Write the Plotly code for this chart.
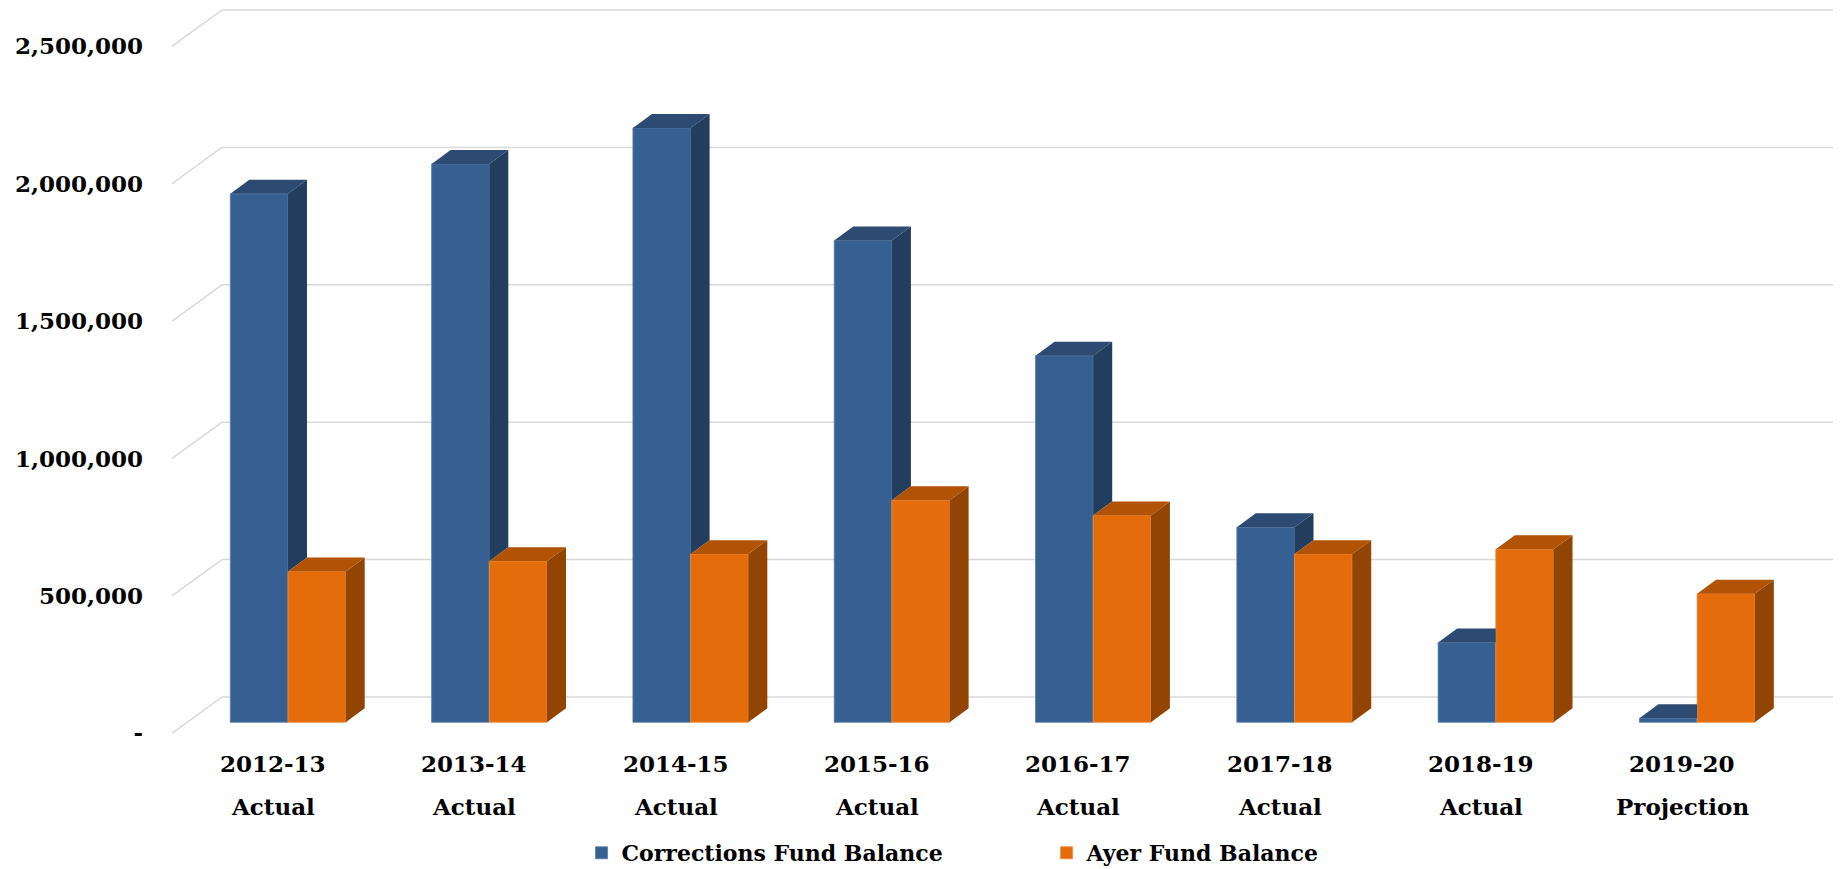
import plotly.graph_objects as go

# ---------------- data ----------------
years = ["2012-13", "2013-14", "2014-15", "2015-16", "2016-17", "2017-18", "2018-19", "2019-20"]
status = ["Actual", "Actual", "Actual", "Actual", "Actual", "Actual", "Actual", "Projection"]
corrections = [1923000, 2032000, 2163000, 1753000, 1334000, 710000, 290000, 15000]
ayer = [549000, 586000, 612000, 808000, 753000, 612000, 630000, 468000]
tick_values = [0, 500000, 1000000, 1500000, 2000000, 2500000]
tick_labels = ["-", "500,000", "1,000,000", "1,500,000", "2,000,000", "2,500,000"]

# ---------------- style ----------------
W = 0.2866            # bar width (category units)
DX = 0.0944           # 3-D depth, horizontal (category units)
DV = 50900            # 3-D depth, vertical (value units)
BACK_RISE = 92100     # back wall offset above bar plane (value units)
BACK_DX = -0.328      # back wall left edge (category units)
FRONT_DROP = 40000    # front floor edge below bar plane (value units)
FRONT_DX = -0.5763    # front floor left edge
RIGHT_END = 7.675
X_RANGE = [-0.5763, 7.7148]
Y_RANGE = [-533842, 2628457]

BLUE_FRONT, BLUE_TOP, BLUE_SIDE = "#376092", "#2C4A72", "#223D5D"
OR_FRONT, OR_TOP, OR_SIDE = "#E46C0A", "#B15205", "#924405"
GRID = "#D9D9D9"
FONT = dict(family="DejaVu Serif", size=23, color="black", weight="bold")
LEGEND_FONT = dict(family="DejaVu Serif", size=22, color="black", weight="bold")

idx = list(range(len(years)))

fig = go.Figure()

# front faces (bars)
fig.add_trace(go.Bar(x=idx, y=corrections, width=W, offset=-W, name="Corrections Fund Balance",
                     marker=dict(color=BLUE_FRONT, line=dict(width=0.8, color="#5A7DAA")),
                     hoverinfo="skip"))
fig.add_trace(go.Bar(x=idx, y=ayer, width=W, offset=0, name="Ayer Fund Balance",
                     marker=dict(color=OR_FRONT, line=dict(width=0.8, color="#EE8A3C")),
                     hoverinfo="skip"))


def poly_trace(polys, color):
    xs, ys = [], []
    for p in polys:
        for (a, b) in p:
            xs.append(a)
            ys.append(b)
        xs.append(p[0][0]); ys.append(p[0][1])
        xs.append(None); ys.append(None)
    return go.Scatter(x=xs, y=ys, mode="lines", fill="toself", fillcolor=color,
                      line=dict(width=0, color=color), showlegend=False, hoverinfo="skip")


blue_side, blue_top, or_side, or_top = [], [], [], []
for i, vb, vo in zip(idx, corrections, ayer):
    # blue side, visible only above the orange bar in front of it
    base = min(max(vo, 0), vb)
    if vb > base:
        blue_side.append([(i, base), (i, vb), (i + DX, vb + DV), (i + DX, base + DV)])
    # blue top
    if vo > vb:
        blue_top.append([(i - W, vb), (i, vb), (i, vb + DV), (i - W + DX, vb + DV)])
    else:
        blue_top.append([(i - W, vb), (i, vb), (i + DX, vb + DV), (i - W + DX, vb + DV)])
    # orange side and top
    or_side.append([(i + W, 0), (i + W, vo), (i + W + DX, vo + DV), (i + W + DX, DV)])
    or_top.append([(i, vo), (i + W, vo), (i + W + DX, vo + DV), (i + DX, vo + DV)])

fig.add_trace(poly_trace(blue_side, BLUE_SIDE))
fig.add_trace(poly_trace(blue_top, BLUE_TOP))
fig.add_trace(poly_trace(or_side, OR_SIDE))
fig.add_trace(poly_trace(or_top, OR_TOP))

# back wall gridlines and left floor diagonals
shapes = []
for g in tick_values:
    shapes.append(dict(type="line", xref="x", yref="y", x0=BACK_DX, x1=RIGHT_END,
                       y0=g + BACK_RISE, y1=g + BACK_RISE, layer="below",
                       line=dict(color=GRID, width=1.5)))
    shapes.append(dict(type="line", xref="x", yref="y", x0=FRONT_DX, x1=BACK_DX,
                       y0=g - FRONT_DROP, y1=g + BACK_RISE, layer="below",
                       line=dict(color=GRID, width=1.5)))

# category labels (two lines)
annotations = []
for i, (yr, st) in enumerate(zip(years, status)):
    annotations.append(dict(x=i, y=1 - 763 / 869, xref="x", yref="paper", text=yr, showarrow=False,
                            xshift=-15, font=FONT, xanchor="center", yanchor="middle"))
    annotations.append(dict(x=i, y=1 - 806 / 869, xref="x", yref="paper", text=st, showarrow=False,
                            xshift=-15, font=FONT, xanchor="center", yanchor="middle"))

fig.update_layout(
    width=1841, height=869,
    margin=dict(l=172, r=0, t=0, b=0, autoexpand=False),
    paper_bgcolor="white", plot_bgcolor="white",
    barmode="overlay",
    shapes=shapes, annotations=annotations,
    xaxis=dict(range=X_RANGE, showgrid=False, zeroline=False, showticklabels=False,
               showline=False, ticks="", fixedrange=True),
    yaxis=dict(range=Y_RANGE, showgrid=False, zeroline=False, showline=False,
               tickvals=[g - FRONT_DROP for g in tick_values], ticktext=tick_labels,
               ticks="", ticklabelstandoff=28,
               tickfont=dict(family="DejaVu Serif", size=23, color="black", weight="bold")),
    legend=dict(orientation="h", x=0.2454, xanchor="left", y=(869 - 853) / 869, yanchor="middle",
                font=LEGEND_FONT, entrywidth=420, bgcolor="rgba(0,0,0,0)", itemclick=False),
    showlegend=True,
)

fig.write_html("out.html")
